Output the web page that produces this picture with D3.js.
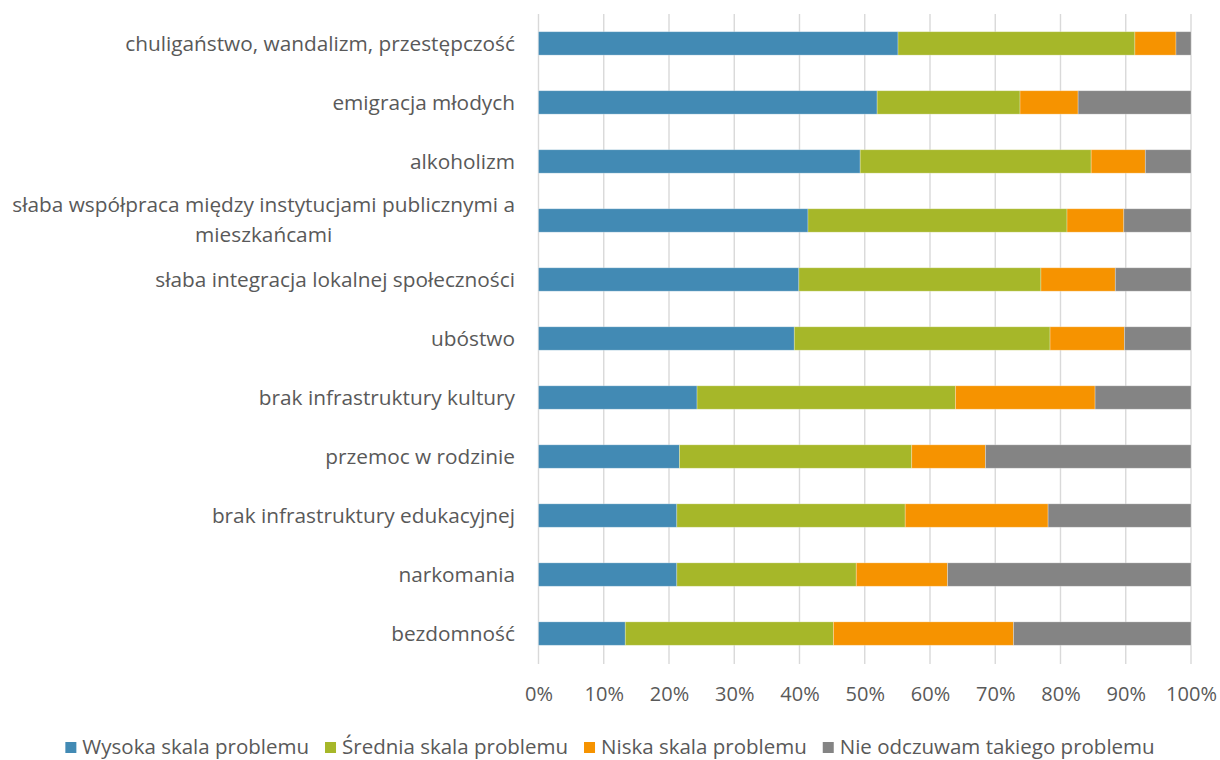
<!DOCTYPE html>
<html>
<head>
<meta charset="utf-8">
<script src="https://cdn.jsdelivr.net/npm/d3@7"></script>
<style>
  body { margin: 0; background: #fff; }
  svg text { font-family: "Open Sans", sans-serif; fill: #595959; }
</style>
</head>
<body>
<svg id="chart" width="1220" height="760"></svg>
<script>
// categories, top to bottom
const categories = [
  "chuligaństwo, wandalizm, przestępczość",
  "emigracja młodych",
  "alkoholizm",
  "słaba współpraca między instytucjami publicznymi a|mieszkańcami",
  "słaba integracja lokalnej społeczności",
  "ubóstwo",
  "brak infrastruktury kultury",
  "przemoc w rodzinie",
  "brak infrastruktury edukacyjnej",
  "narkomania",
  "bezdomność"
];

const seriesNames = [
  "Wysoka skala problemu",
  "Średnia skala problemu",
  "Niska skala problemu",
  "Nie odczuwam takiego problemu"
];

// shares in %, same order as categories
const wysoka  = [55.1, 51.9, 49.3, 41.3, 39.9, 39.2, 24.3, 21.6, 21.2, 21.2, 13.3];
const srednia = [36.3, 21.9, 35.4, 39.7, 37.1, 39.2, 39.6, 35.6, 35.0, 27.5, 31.9];
const niska   = [6.3, 8.9, 8.3, 8.7, 11.4, 11.4, 21.4, 11.3, 21.9, 14.0, 27.6];
const brak    = [2.3, 17.3, 7.0, 10.3, 11.6, 10.2, 14.7, 31.5, 21.9, 37.3, 27.2];

const tickValues = [0, 10, 20, 30, 40, 50, 60, 70, 80, 90, 100];
const colors = ["#428ab4", "#a6b729", "#f69300", "#848484"];

const svg = d3.select("#chart");
const margin = { top: 14, right: 29, bottom: 97, left: 538.5 };
const width = 1220, height = 760;

const rows = categories.map((c, i) => ({
  cat: c, vals: [wysoka[i], srednia[i], niska[i], brak[i]]
}));

const x = d3.scaleLinear()
  .domain([0, 100])
  .range([margin.left, width - margin.right]);

const y = d3.scaleBand()
  .domain(categories)
  .range([margin.top, height - margin.bottom])
  .paddingInner(0.603)
  .paddingOuter(0.3);

// gridlines
svg.append("g")
  .selectAll("line")
  .data(tickValues)
  .join("line")
    .attr("x1", d => x(d))
    .attr("x2", d => x(d))
    .attr("y1", margin.top)
    .attr("y2", height - margin.bottom + 1)
    .attr("stroke", "#d9d9d9")
    .attr("stroke-width", 1.4);

// stacked bars
const stack = d3.stack().keys([0, 1, 2, 3]).value((d, k) => d.vals[k]);
const layers = stack(rows);

svg.append("g")
  .selectAll("g")
  .data(layers)
  .join("g")
    .attr("fill", (d, i) => colors[i])
  .selectAll("rect")
  .data(d => d)
  .join("rect")
    .attr("x", d => x(d[0]))
    .attr("y", d => y(d.data.cat))
    .attr("width", d => x(d[1]) - x(d[0]))
    .attr("height", y.bandwidth())
    .attr("stroke", "#ffffff")
    .attr("stroke-opacity", 0.35)
    .attr("stroke-width", 0.8);

// x axis labels
const xAxis = svg.append("g")
  .attr("transform", `translate(0,${height - margin.bottom})`)
  .call(d3.axisBottom(x).tickValues(tickValues).tickFormat(d => d + "%").tickSize(0).tickPadding(24));
xAxis.select(".domain").remove();
xAxis.selectAll("text")
  .attr("font-size", 20)
  .attr("font-family", "Open Sans, sans-serif")
  .attr("fill", "#595959");

// category labels (with manual line break)
const labels = svg.append("g")
  .selectAll("text")
  .data(categories)
  .join("text")
    .attr("text-anchor", "end")
    .attr("font-size", 20.8)
    .attr("x", 515)
    .attr("y", d => y(d) + y.bandwidth() / 2);

labels.each(function(d) {
  const lines = d.split("|");
  const t = d3.select(this);
  if (lines.length === 1) {
    t.attr("dy", "0.35em").text(d);
  } else {
    t.append("tspan").attr("x", 515).attr("dy", "-0.4em").text(lines[0]);
    const w0 = this.getComputedTextLength();
    t.append("tspan").attr("x", 515 - w0 / 2).attr("text-anchor", "middle")
      .attr("dy", "1.45em").text(lines[1]);
  }
});

// legend
const legend = svg.append("g").attr("transform", "translate(0,747)");
const items = legend.selectAll("g")
  .data(seriesNames)
  .join("g");
items.append("rect")
  .attr("width", 11).attr("height", 11).attr("y", -5)
  .attr("fill", (d, i) => colors[i]);
items.append("text")
  .attr("x", 17)
  .attr("dy", "0.35em")
  .attr("font-size", 20.5)
  .text(d => d);

let pos = 0;
const offsets = [];
items.each(function() {
  offsets.push(pos);
  pos += this.getBBox().width + 16;
});
const start = (width - (pos - 16)) / 2;
items.attr("transform", (d, i) => `translate(${start + offsets[i]},0)`);
</script>
</body>
</html>
